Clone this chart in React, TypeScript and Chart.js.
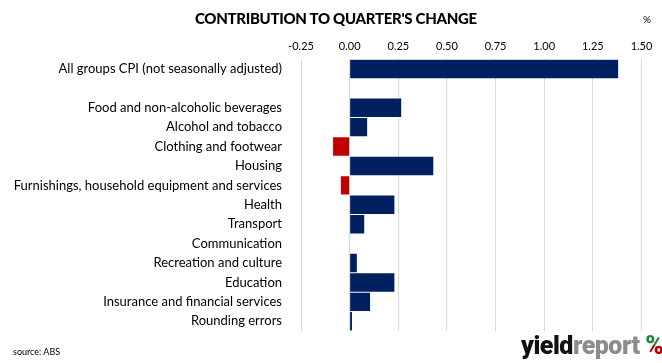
import React, { useEffect, useRef } from "react";
import { Chart, registerables } from "chart.js";

Chart.register(...registerables);

const categories: string[] = [
  "All groups CPI (not seasonally adjusted)",
  "",
  "Food and non-alcoholic beverages",
  "Alcohol and tobacco",
  "Clothing and footwear",
  "Housing",
  "Furnishings, household equipment and services",
  "Health",
  "Transport",
  "Communication",
  "Recreation and culture",
  "Education",
  "Insurance and financial services",
  "Rounding errors",
];

const values: (number | null)[] = [1.38, null, 0.265, 0.09, -0.085, 0.43, -0.045, 0.23, 0.075, 0, 0.037, 0.23, 0.105, 0.012];

const xMin = -0.25;
const xMax = 1.5;
const xStep = 0.25;

const FONT = "Lato, 'Open Sans', sans-serif";

export default function App() {
  const ref = useRef<HTMLCanvasElement | null>(null);

  useEffect(() => {
    if (!ref.current) return;
    const chart = new Chart(ref.current, {
      type: "bar",
      data: {
        labels: categories,
        datasets: [
          {
            data: values as any,
            backgroundColor: values.map((v) => ((v ?? 0) < 0 ? "#c00000" : "#002060")),
            borderWidth: 0,
            barPercentage: 0.95,
            categoryPercentage: 1,
          },
        ],
      },
      options: {
        indexAxis: "y",
        animation: false,
        responsive: false,
        maintainAspectRatio: false,
        layout: { padding: { top: 34, right: 20.5, bottom: 32, left: 0 } },
        plugins: { legend: { display: false }, tooltip: { enabled: false }, title: { display: false } },
        scales: {
          x: {
            position: "top",
            min: xMin,
            max: xMax,
            ticks: {
              stepSize: xStep,
              callback: (v: any) => Number(v).toFixed(2),
              color: "#000",
              font: { family: FONT, size: 11 },
              padding: 6,
            },
            grid: { color: "#d9d9d9", drawTicks: false },
            border: { display: false },
          },
          y: {
            ticks: {
              color: "#000",
              font: { family: FONT, size: 13 },
              padding: 11,
              autoSkip: false,
            },
            grid: { display: false },
            border: { display: false },
            afterFit: (s: any) => {
              s.width = 301;
            },
          },
        },
      },
    });
    return () => chart.destroy();
  }, []);

  return (
    <div style={{ position: "fixed", left: 0, top: 0, width: 662, height: 363, background: "#fff", fontFamily: FONT }}>
      <canvas ref={ref} width={662} height={363} style={{ position: "absolute", left: 0, top: 0 }} />
      <div style={{ position: "absolute", left: 195, top: 9, fontWeight: 900, fontSize: 15, letterSpacing: -0.3, color: "#000", whiteSpace: "nowrap" }}>
        CONTRIBUTION TO QUARTER'S CHANGE
      </div>
      <div style={{ position: "absolute", left: 643, top: 13, fontSize: 10, color: "#000" }}>%</div>
      <div style={{ position: "absolute", left: 13, top: 346, fontSize: 9, color: "#000" }}>source: ABS</div>
      <div style={{ position: "absolute", left: 521, top: 331, fontSize: 25, fontWeight: 900, whiteSpace: "nowrap", letterSpacing: -0.5, fontFamily: "'Liberation Sans Narrow', 'Roboto', sans-serif" }}>
        <span style={{ color: "#111" }}>yield</span>
        <span style={{ color: "#8c8c8c" }}>report </span>
        <span
          style={{
            backgroundImage: "linear-gradient(to bottom, #1a8a3a 50%, #c00000 50%)",
            WebkitBackgroundClip: "text",
            backgroundClip: "text",
            color: "transparent",
          }}
        >
          %
        </span>
      </div>
    </div>
  );
}
